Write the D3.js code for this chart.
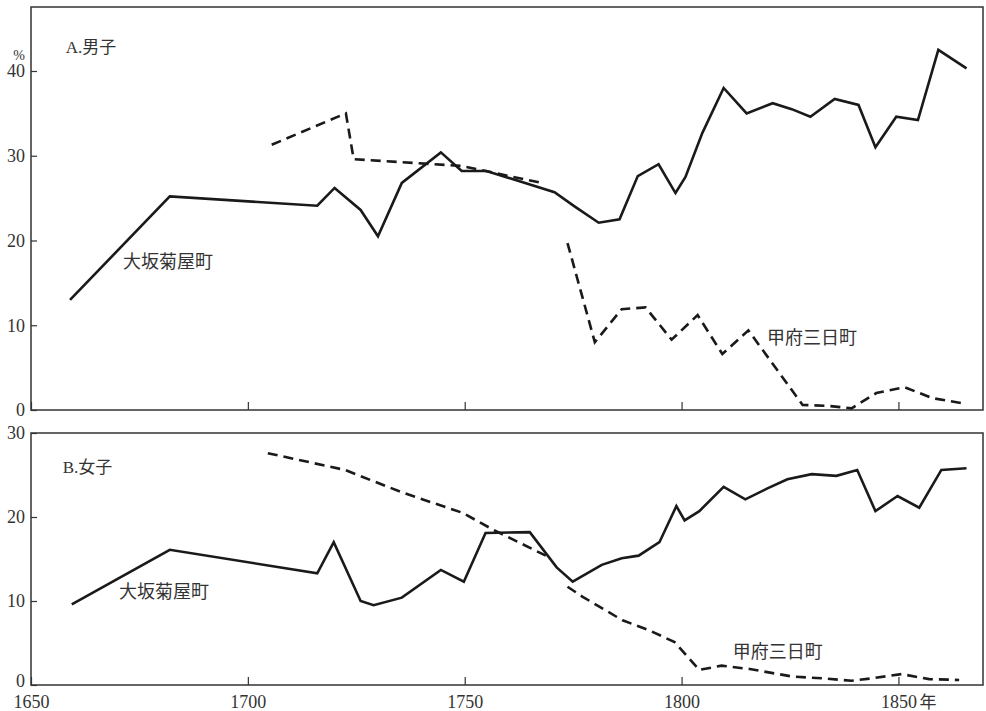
<!DOCTYPE html>
<html>
<head>
<meta charset="utf-8">
<script src="https://cdn.jsdelivr.net/npm/d3@7"></script>
<style>
  body { margin: 0; background: #fff; }
  svg text { font-family: "Liberation Serif", "Noto Sans CJK JP", serif; fill: #333; }
</style>
</head>
<body>
<script>
var w = 986, h = 711;

// A. 男子 (male)
var osakaMaleYears = [1659, 1682, 1716, 1720, 1726, 1730, 1735.5, 1744.5, 1749.3, 1755, 1770.7, 1775.4, 1780.9, 1785.7, 1789.9, 1794.7, 1798.6, 1800.9, 1804.8, 1809.7, 1815, 1821, 1825.4, 1829.7, 1835.3, 1840.8, 1844.7, 1849.5, 1854.5, 1859.2, 1865.7];
var osakaMaleValues = [13.0, 25.2, 24.1, 26.2, 23.6, 20.5, 26.8, 30.4, 28.2, 28.2, 25.7, 24.0, 22.1, 22.5, 27.6, 29.0, 25.6, 27.5, 32.7, 38.0, 35.0, 36.2, 35.5, 34.6, 36.7, 36.0, 31.0, 34.6, 34.2, 42.5, 40.3];

// null marks the break between the two Kofu series
var kofuMaleYears = [1705.5, 1722.6, 1724.4, 1749.3, 1767.7, 1771, 1773.7, 1780, 1786.2, 1791.7, 1797.7, 1803.7, 1809.4, 1815.4, 1827.9, 1833.4, 1839.2, 1844.9, 1851.4, 1857.8, 1864.7];
var kofuMaleValues = [31.3, 35.0, 29.6, 28.8, 26.8, null, 19.7, 8.0, 11.9, 12.1, 8.3, 11.2, 6.6, 9.4, 0.6, 0.5, 0.2, 2.0, 2.7, 1.4, 0.8];

// B. 女子 (female)
var osakaFemaleYears = [1659.4, 1682, 1716, 1719.8, 1726, 1729, 1735.5, 1744.5, 1749.8, 1754.8, 1765, 1771.2, 1774.9, 1781.6, 1786.2, 1790.1, 1794.9, 1798.8, 1800.7, 1804.1, 1809.7, 1814.7, 1819.8, 1824.4, 1830, 1835.7, 1840.5, 1844.7, 1849.8, 1854.8, 1859.9, 1865.7];
var osakaFemaleValues = [9.6, 16.1, 13.3, 17.0, 10.0, 9.5, 10.4, 13.7, 12.3, 18.1, 18.2, 14.0, 12.3, 14.3, 15.1, 15.4, 17.0, 21.3, 19.6, 20.7, 23.6, 22.1, 23.4, 24.5, 25.1, 24.9, 25.6, 20.7, 22.5, 21.1, 25.6, 25.8];

var kofuFemaleYears = [1704.6, 1722.4, 1735.7, 1749.5, 1756.5, 1768.7, 1771, 1773.7, 1777.2, 1786.4, 1792.6, 1798.4, 1804.1, 1809.2, 1815.7, 1825.6, 1832.5, 1839.2, 1844, 1850.7, 1857.1, 1864];
var kofuFemaleValues = [27.6, 25.6, 22.9, 20.5, 18.5, 15.4, null, 11.7, 10.5, 7.7, 6.5, 5.1, 1.8, 2.3, 1.9, 1.0, 0.8, 0.5, 0.8, 1.3, 0.7, 0.6];

var xTicks = [1650, 1700, 1750, 1800, 1850];
var yTicksTop = [0, 10, 20, 30, 40];
var yTicksBottom = [0, 10, 20, 30];

var svg = d3.select("body")
    .append("svg")
    .attr("width", w)
    .attr("height", h);

var x = d3.scaleLinear()
    .domain([1650, 1869.5])
    .range([31, 983]);

var yTop = d3.scaleLinear()
    .domain([0, 40])
    .range([410, 71]);

var yBottom = d3.scaleLinear()
    .domain([0, 30])
    .range([685, 433]);

function zip(years, values) {
    return years.map(function (d, i) { return { year: d, v: values[i] }; });
}

// panel frames
svg.append("rect")
    .attr("x", x(1650)).attr("y", 7)
    .attr("width", x.range()[1] - x(1650))
    .attr("height", yTop(0) - 7)
    .attr("fill", "none").attr("stroke", "#333").attr("stroke-width", 1.5);

svg.append("rect")
    .attr("x", x(1650)).attr("y", yBottom(30))
    .attr("width", x.range()[1] - x(1650))
    .attr("height", yBottom(0) - yBottom(30))
    .attr("fill", "none").attr("stroke", "#333").attr("stroke-width", 1.5);

// axes
function drawAxes(yScale, yTicks, showXLabels) {
    var xAxis = d3.axisBottom(x)
        .tickValues(xTicks)
        .tickSizeInner(-8)
        .tickSizeOuter(0)
        .tickPadding(10)
        .tickFormat(showXLabels ? d3.format("d") : "");

    var gx = svg.append("g")
        .attr("transform", "translate(0," + yScale(0) + ")")
        .call(xAxis);
    gx.select(".domain").remove();
    gx.selectAll("line").attr("stroke", "#333").attr("stroke-width", 1.2);
    gx.selectAll("text").style("font-size", "18px").attr("fill", "#333");

    var yAxis = d3.axisLeft(yScale)
        .tickValues(yTicks)
        .tickSizeInner(-6)
        .tickSizeOuter(0)
        .tickPadding(6)
        .tickFormat(d3.format("d"));

    var gy = svg.append("g")
        .attr("transform", "translate(" + x(1650) + ",0)")
        .call(yAxis);
    gy.select(".domain").remove();
    gy.selectAll("line").attr("stroke", "#333").attr("stroke-width", 1.2);
    gy.selectAll("text").style("font-size", "18px").attr("fill", "#333");

    // the bottom "0" sits just above the year labels
    if (showXLabels) {
        gy.selectAll(".tick text")
            .filter(function (d) { return d === 0; })
            .attr("dy", "0.1em");
    }
}

drawAxes(yTop, yTicksTop, false);
drawAxes(yBottom, yTicksBottom, true);

svg.append("text")
    .attr("x", x(1850) + 21)
    .attr("y", yBottom(0) + 23)
    .style("font-size", "17px")
    .text("年");

svg.append("text")
    .attr("x", 19)
    .attr("y", 60)
    .attr("text-anchor", "middle")
    .style("font-size", "14px")
    .text("%");

// lines
function drawLine(data, yScale, dashed) {
    var line = d3.line()
        .defined(function (d) { return d.v != null; })
        .x(function (d) { return x(d.year); })
        .y(function (d) { return yScale(d.v); });

    svg.append("path")
        .datum(data)
        .attr("d", line)
        .attr("fill", "none")
        .attr("stroke", "#1a1a1a")
        .attr("stroke-width", 2.6)
        .attr("stroke-linejoin", "miter")
        .attr("stroke-dasharray", dashed ? "10,6" : null);
}

drawLine(zip(osakaMaleYears, osakaMaleValues), yTop, false);
drawLine(zip(kofuMaleYears, kofuMaleValues), yTop, true);
drawLine(zip(osakaFemaleYears, osakaFemaleValues), yBottom, false);
drawLine(zip(kofuFemaleYears, kofuFemaleValues), yBottom, true);

// panel titles and series labels
function label(txt, year, v, yScale, size) {
    svg.append("text")
        .attr("x", x(year))
        .attr("y", yScale(v))
        .style("font-size", size + "px")
        .text(txt);
}

label("A.男子", 1658, 42.1, yTop, 17);
label("B.女子", 1657.3, 25.2, yBottom, 17);
label("大坂菊屋町", 1671.2, 16.8, yTop, 18);
label("大坂菊屋町", 1670.3, 10.3, yBottom, 18);
label("甲府三日町", 1819.7, 7.8, yTop, 18);
label("甲府三日町", 1811.8, 3.2, yBottom, 18);
</script>
</body>
</html>
